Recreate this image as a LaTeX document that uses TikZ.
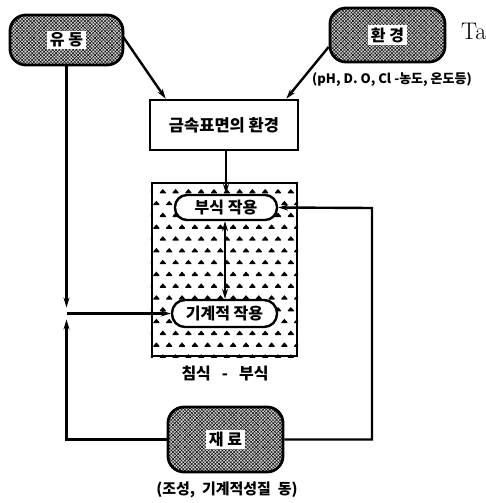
\documentclass[tikz,border=0pt]{standalone}
\usepackage{fontspec}
\newfontfamily\kr{Noto Sans CJK KR}
\usetikzlibrary{arrows.meta,calc,patterns.meta}
\begin{document}
\begin{tikzpicture}[x=1pt,y=-1pt,
  line width=2.4pt,
  >={Stealth[length=10pt,width=6pt]},
  hatchbox/.style={draw,line width=2.8pt,rounded corners=16pt,
    preaction={fill=gray!35},
    pattern={Lines[angle=45,distance=2.4pt,line width=0.45pt]},
    postaction={pattern={Lines[angle=-45,distance=2.4pt,line width=0.45pt]}}},
  hlabel/.style={fill=white,inner xsep=3pt,inner ysep=2pt,font=\kr\bfseries\fontsize{16}{18}\selectfont},
  pill/.style={draw,fill=white,line width=2.4pt,rounded corners=12pt,inner sep=0pt,
    font=\kr\bfseries\fontsize{16}{18}\selectfont},
  plainbox/.style={draw,fill=white,line width=2.6pt,inner sep=0pt,
    font=\kr\bfseries\fontsize{16.5}{18}\selectfont},
  captext/.style={font=\kr\bfseries\fontsize{15}{17}\selectfont,inner sep=0pt}
]
\useasboundingbox (0,0) rectangle (486,503);
% hatched rounded boxes
\node[hatchbox,minimum width=113pt,minimum height=50pt] (yudong) at (66.5,40) {};
\node[hlabel] (yudongt) at (yudong) {유\ 동};
\node[hatchbox,minimum width=115pt,minimum height=54pt] (hwan) at (387.5,35) {};
\node[hlabel] (hwant) at (hwan) {환\ 경};
\node[hatchbox,minimum width=115pt,minimum height=65pt] (jae) at (225.5,439.5) {};
\node[hlabel] (jaet) at (jae) {재\ 료};
% Ta
\node[anchor=west,inner sep=0pt,font=\fontsize{24}{26}\selectfont] (ta) at (460,31) {Ta};
% pH label
\node[captext,font=\kr\bfseries\fontsize{13}{15}\selectfont] (ph) at (392,80) {(pH, D. O, Cl -농도, 온도등)};
% surface box
\node[plainbox,minimum width=148pt,minimum height=50pt] (geum) at (224,125) {금속표면의\ 환경};
% erosion box with pattern
\node[draw,line width=2.2pt,minimum width=145pt,minimum height=173pt,inner sep=0pt] (ero) at (224.5,269.5) {};
\begin{scope}
  \clip (ero.north west) rectangle (ero.south east);
  \foreach \j in {0,...,15}{
    \foreach \i in {0,...,12}{
      \pgfmathsetmacro{\xx}{150+\i*12.8+mod(\j,2)*6.4}
      \pgfmathsetmacro{\yy}{189+\j*11.8}
      \fill (\xx,\yy) -- ++(3,3.4) .. controls ++(0.4,1.4) and ++(1.3,0) .. ++(-1.4,1)
        -- ++(-3.2,0) .. controls ++(-1.3,0) and ++(-0.4,1.4) .. ++(-1.4,-1) -- cycle;
    }
  }
\end{scope}
\node[draw,line width=2.2pt,minimum width=145pt,minimum height=173pt,inner sep=0pt] at (ero) {};
\node[pill,minimum width=102pt,minimum height=25pt] (busik) at (226,207.5) {부식\ 작용};
\node[pill,minimum width=105pt,minimum height=27pt,rounded corners=13pt] (gigye) at (224.5,313.5) {기계적\ 작용};
\node[captext,font=\kr\bfseries\fontsize{16}{18}\selectfont] (chim) at (225,373) {침식\ \ \ -\ \ \ 부식};
\node[captext] (jcap) at (227,490) {(조성,\ \ 기계적성질\ \ 동)};
% connectors
\coordinate (J) at (yudong.south |- gigye.west);
\coordinate (R) at (372,208);
\draw[->] ($(yudong.east)+(0,-3)$) -- ($(geum.north west)+(17,0)$);
\draw[->] ($(hwan.west)+(0,12)$) -- ($(geum.north east)+(-13,0)$);
\draw[->] (geum.south -| busik.north) -- (busik.north);
\draw[<->] ($(busik.south)+(-1,0)$) -- ($(busik.south |- gigye.north)+(-1,0)$);
\draw[->,shorten >=6pt] (yudong.south) -- (J);
\draw[->,shorten >=6pt] (jae.west) -| (J);
\draw[->] (J) -- (gigye.west);
\draw[->] (jae.east) -| (R) -- (busik.east);
\end{tikzpicture}
\end{document}
